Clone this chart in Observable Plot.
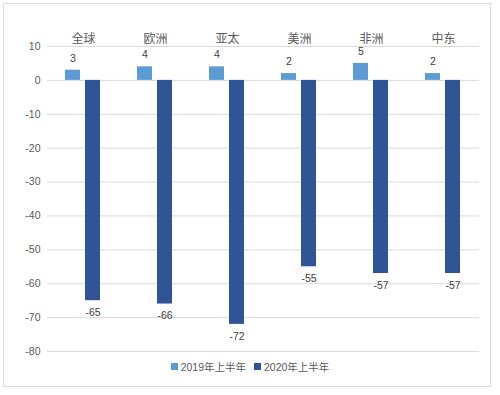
<!DOCTYPE html>
<html><head><meta charset="utf-8">
<script src="https://cdn.jsdelivr.net/npm/d3@7"></script>
<script src="https://cdn.jsdelivr.net/npm/@observablehq/plot@0.6"></script>
<style>
body{margin:0;background:#fff;font-family:"Liberation Sans","Noto Sans CJK SC",sans-serif;width:500px;height:395px;position:relative;overflow:hidden;}
#frame{position:absolute;left:3px;top:3px;width:488px;height:384px;border:1px solid #d9d9d9;box-sizing:border-box;}
#chart{position:absolute;left:0;top:0;}
#legend{position:absolute;left:0;top:358px;width:500px;height:16px;display:flex;justify-content:center;align-items:center;font-size:10.5px;color:#595959;}
#legend span.item{display:flex;align-items:center;margin:0 4px;}
#legend span.sw{display:inline-block;width:7px;height:7px;margin-right:3px;}
</style></head>
<body>
<div id="frame"></div>
<div id="chart"></div>
<div id="legend"></div>
<script>
const regions = ["全球","欧洲","亚太","美洲","非洲","中东"];
const series = ["2019年上半年","2020年上半年"];
const values2019 = [3,4,4,2,5,2];
const values2020 = [-65,-66,-72,-55,-57,-57];
const yTicks = [10,0,-10,-20,-30,-40,-50,-60,-70,-80];
const colors = ["#5b9bd5","#2f5597"];

const data = [];
regions.forEach((r,i)=>{
  data.push({region:r, series:series[0], value:values2019[i]});
  data.push({region:r, series:series[1], value:values2020[i]});
});

const chart = Plot.plot({
  width:500, height:356,
  marginLeft:45, marginRight:20, marginTop:46, marginBottom:5,
  style:{fontFamily:'"Liberation Sans","Noto Sans CJK SC",sans-serif', fontSize:"10.5px", color:"#595959", background:"transparent"},
  fx:{domain:regions, padding:0, label:null},
  x:{domain:series, paddingInner:0.24, paddingOuter:0.85, axis:null},
  y:{domain:[-80,10], ticks:yTicks, tickFormat:d=>String(d), tickSize:0, tickPadding:7, label:null},
  color:{domain:series, range:colors},
  marks:[
    Plot.axisFx({anchor:"top", tickSize:0, tickPadding:4, fontSize:12, label:null}),
    Plot.gridY(yTicks,{stroke:"#d9d9d9", strokeOpacity:1}),
    Plot.barY(data,{fx:"region", x:"series", y:"value", fill:"series"}),
    Plot.text(data.filter(d=>d.value>=0),{fx:"region", x:"series", y:"value", text:d=>String(d.value), dy:-12, fill:"#404040", fontSize:10.5}),
    Plot.text(data.filter(d=>d.value<0),{fx:"region", x:"series", y:"value", text:d=>String(d.value), dy:12, fill:"#404040", fontSize:10.5})
  ]
});
document.getElementById("chart").appendChild(chart);

const lg = document.getElementById("legend");
series.forEach((s,i)=>{
  const it = document.createElement("span"); it.className="item";
  const sw = document.createElement("span"); sw.className="sw"; sw.style.background=colors[i];
  it.appendChild(sw); it.appendChild(document.createTextNode(s));
  lg.appendChild(it);
});
</script>
</body></html>
